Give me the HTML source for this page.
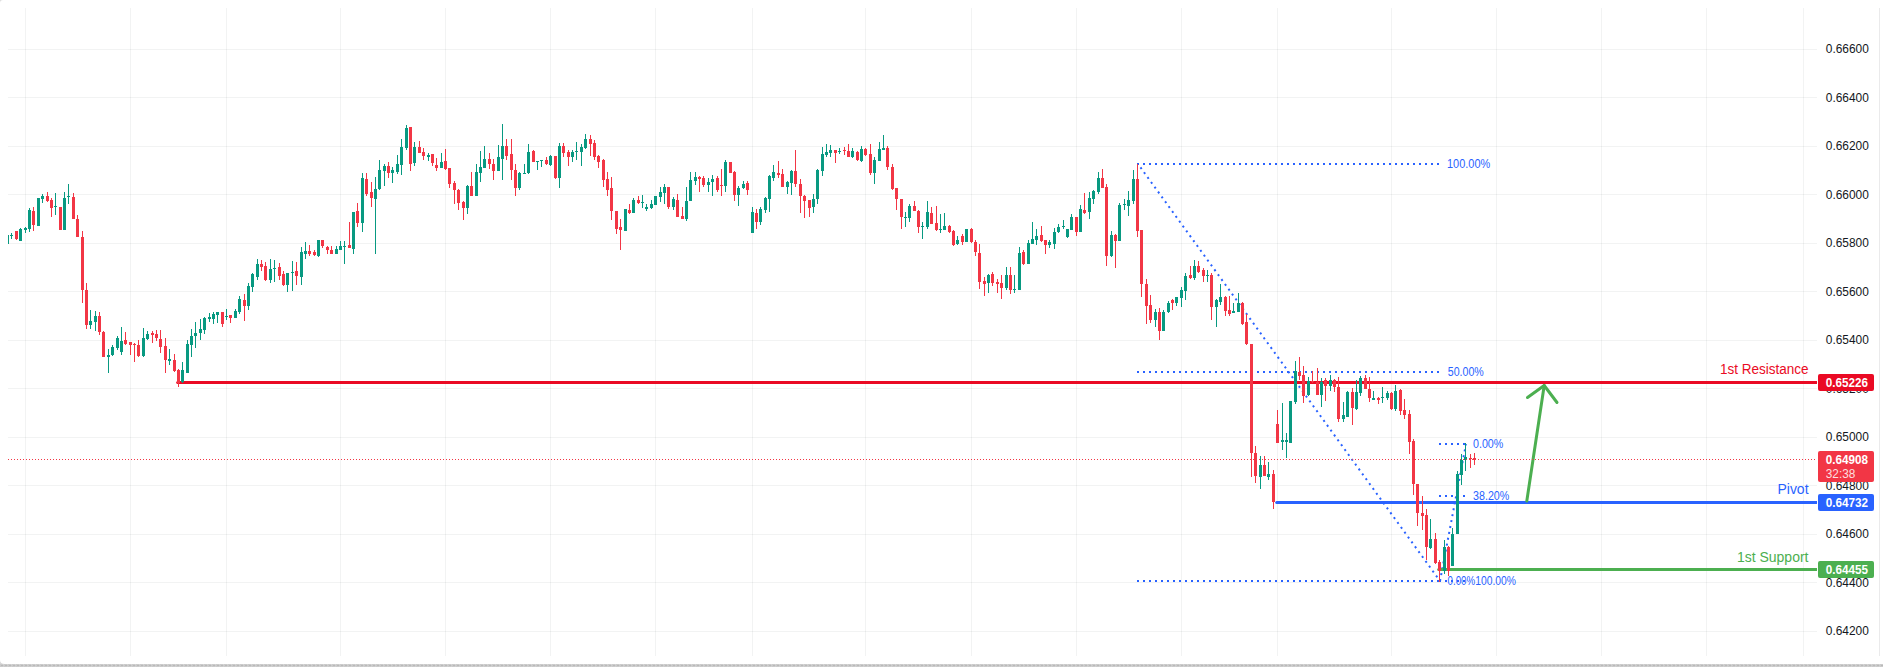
<!DOCTYPE html>
<html lang="en"><head><meta charset="utf-8"><title>Chart</title>
<style>html,body{margin:0;padding:0;background:#fff;}body{width:1883px;height:667px;overflow:hidden;}svg{display:block;}text{font-family:"Liberation Sans",Arial,sans-serif;}</style>
</head><body>
<svg width="1883" height="667" viewBox="0 0 1883 667">
<rect x="0" y="0" width="1883" height="667" fill="#ffffff"/>
<g fill="rgba(42,46,57,0.06)" shape-rendering="crispEdges">
<rect x="25" y="8" width="1" height="648"/>
<rect x="130" y="8" width="1" height="648"/>
<rect x="226" y="8" width="1" height="648"/>
<rect x="340" y="8" width="1" height="648"/>
<rect x="445" y="8" width="1" height="648"/>
<rect x="550" y="8" width="1" height="648"/>
<rect x="655" y="8" width="1" height="648"/>
<rect x="752" y="8" width="1" height="648"/>
<rect x="865" y="8" width="1" height="648"/>
<rect x="971" y="8" width="1" height="648"/>
<rect x="1076" y="8" width="1" height="648"/>
<rect x="1181" y="8" width="1" height="648"/>
<rect x="1277" y="8" width="1" height="648"/>
<rect x="1391" y="8" width="1" height="648"/>
<rect x="1496" y="8" width="1" height="648"/>
<rect x="1601" y="8" width="1" height="648"/>
<rect x="1706" y="8" width="1" height="648"/>
<rect x="1803" y="8" width="1" height="648"/>
<rect x="8" y="49" width="1809" height="1"/>
<rect x="8" y="97" width="1809" height="1"/>
<rect x="8" y="146" width="1809" height="1"/>
<rect x="8" y="194" width="1809" height="1"/>
<rect x="8" y="243" width="1809" height="1"/>
<rect x="8" y="291" width="1809" height="1"/>
<rect x="8" y="340" width="1809" height="1"/>
<rect x="8" y="388" width="1809" height="1"/>
<rect x="8" y="437" width="1809" height="1"/>
<rect x="8" y="485" width="1809" height="1"/>
<rect x="8" y="534" width="1809" height="1"/>
<rect x="8" y="582" width="1809" height="1"/>
<rect x="8" y="631" width="1809" height="1"/>
</g>
<rect x="1879" y="8" width="1" height="648" fill="#eaeaeb" shape-rendering="crispEdges"/>
<line x1="1137" y1="164" x2="1441" y2="164" stroke="#2962ff" stroke-width="2" stroke-dasharray="2 4" shape-rendering="crispEdges"/>
<line x1="1137" y1="372" x2="1441" y2="372" stroke="#2962ff" stroke-width="2" stroke-dasharray="2 4" shape-rendering="crispEdges"/>
<line x1="1137" y1="581" x2="1441" y2="581" stroke="#2962ff" stroke-width="2" stroke-dasharray="2 4" shape-rendering="crispEdges"/>
<line x1="1439" y1="444" x2="1467" y2="444" stroke="#2962ff" stroke-width="2" stroke-dasharray="2 4" shape-rendering="crispEdges"/>
<line x1="1439" y1="496" x2="1467" y2="496" stroke="#2962ff" stroke-width="2" stroke-dasharray="2 4" shape-rendering="crispEdges"/>
<line x1="1439" y1="581" x2="1467" y2="581" stroke="#2962ff" stroke-width="2" stroke-dasharray="2 4" shape-rendering="crispEdges"/>
<line x1="1138" y1="164" x2="1440" y2="581" stroke="#2962ff" stroke-width="2" stroke-dasharray="2 4" stroke-dashoffset="1.8"/>
<line x1="1440" y1="581" x2="1466" y2="444" stroke="#2962ff" stroke-width="2" stroke-dasharray="2 4"/>
<text x="1447" y="167.9" font-size="12" fill="#2962ff" textLength="43.2" lengthAdjust="spacingAndGlyphs">100.00%</text>
<text x="1447.8" y="375.9" font-size="12" fill="#2962ff" textLength="36" lengthAdjust="spacingAndGlyphs">50.00%</text>
<text x="1473" y="447.9" font-size="12" fill="#2962ff" textLength="30.3" lengthAdjust="spacingAndGlyphs">0.00%</text>
<text x="1473" y="499.9" font-size="12" fill="#2962ff" textLength="36.3" lengthAdjust="spacingAndGlyphs">38.20%</text>
<text x="1447.6" y="584.8" font-size="12" fill="#2962ff" textLength="27.6" lengthAdjust="spacingAndGlyphs">0.00%</text>
<text x="1475.2" y="584.8" font-size="12" fill="#2962ff" textLength="40.8" lengthAdjust="spacingAndGlyphs">100.00%</text>
<g stroke-width="3" stroke-linecap="round">
<line x1="177.7" y1="382.5" x2="1815.5" y2="382.5" stroke="#ea0a24"/>
<line x1="1276.7" y1="502.5" x2="1815.5" y2="502.5" stroke="#2962ff"/>
<line x1="1438.7" y1="569.5" x2="1815.5" y2="569.5" stroke="#4caf50"/>
</g>
<g shape-rendering="crispEdges"><rect x="1810" y="381" width="7" height="3" fill="#ea0a24"/><rect x="1810" y="501" width="7" height="3" fill="#2962ff"/><rect x="1810" y="568" width="7" height="3" fill="#4caf50"/></g>
<text x="1808.5" y="374" font-size="14" fill="#ea0a24" text-anchor="end" textLength="88.6" lengthAdjust="spacingAndGlyphs">1st Resistance</text>
<text x="1808.5" y="494" font-size="14" fill="#2962ff" text-anchor="end" textLength="31" lengthAdjust="spacingAndGlyphs">Pivot</text>
<text x="1808.5" y="561.8" font-size="14" fill="#4caf50" text-anchor="end" textLength="71.6" lengthAdjust="spacingAndGlyphs">1st Support</text>
<g stroke="#4caf50" stroke-width="3" stroke-linecap="round" stroke-linejoin="round" fill="none">
<path d="M1526.8 501 L1544.2 385.5"/>
<path d="M1527.5 397.5 L1544.2 385.5 L1557 402.5"/>
</g>
<g shape-rendering="crispEdges">
<rect x="8" y="235" width="1" height="9" fill="#089981"/>
<rect x="11" y="233" width="1" height="6" fill="#089981"/>
<rect x="10" y="235" width="3" height="1" fill="#089981"/>
<rect x="16" y="231" width="1" height="9" fill="#f23645"/>
<rect x="15" y="231" width="3" height="8" fill="#f23645"/>
<rect x="20" y="228" width="1" height="13" fill="#089981"/>
<rect x="19" y="229" width="3" height="12" fill="#089981"/>
<rect x="25" y="227" width="1" height="6" fill="#089981"/>
<rect x="24" y="228" width="3" height="2" fill="#089981"/>
<rect x="29" y="208" width="1" height="24" fill="#089981"/>
<rect x="28" y="210" width="3" height="19" fill="#089981"/>
<rect x="33" y="207" width="1" height="24" fill="#f23645"/>
<rect x="32" y="211" width="3" height="14" fill="#f23645"/>
<rect x="38" y="198" width="1" height="28" fill="#089981"/>
<rect x="37" y="198" width="3" height="28" fill="#089981"/>
<rect x="42" y="194" width="1" height="9" fill="#089981"/>
<rect x="41" y="196" width="3" height="3" fill="#089981"/>
<rect x="47" y="192" width="1" height="10" fill="#f23645"/>
<rect x="46" y="196" width="3" height="5" fill="#f23645"/>
<rect x="51" y="198" width="1" height="19" fill="#f23645"/>
<rect x="50" y="200" width="3" height="8" fill="#f23645"/>
<rect x="55" y="193" width="1" height="22" fill="#089981"/>
<rect x="54" y="206" width="3" height="1" fill="#089981"/>
<rect x="60" y="207" width="1" height="23" fill="#f23645"/>
<rect x="59" y="207" width="3" height="23" fill="#f23645"/>
<rect x="64" y="192" width="1" height="38" fill="#089981"/>
<rect x="63" y="198" width="3" height="32" fill="#089981"/>
<rect x="68" y="184" width="1" height="20" fill="#089981"/>
<rect x="67" y="196" width="3" height="1" fill="#089981"/>
<rect x="73" y="193" width="1" height="26" fill="#f23645"/>
<rect x="72" y="197" width="3" height="22" fill="#f23645"/>
<rect x="77" y="215" width="1" height="22" fill="#f23645"/>
<rect x="76" y="219" width="3" height="18" fill="#f23645"/>
<rect x="82" y="231" width="1" height="72" fill="#f23645"/>
<rect x="81" y="237" width="3" height="53" fill="#f23645"/>
<rect x="86" y="283" width="1" height="46" fill="#f23645"/>
<rect x="85" y="290" width="3" height="35" fill="#f23645"/>
<rect x="90" y="310" width="1" height="19" fill="#089981"/>
<rect x="89" y="321" width="3" height="4" fill="#089981"/>
<rect x="95" y="311" width="1" height="20" fill="#089981"/>
<rect x="94" y="316" width="3" height="6" fill="#089981"/>
<rect x="99" y="312" width="1" height="23" fill="#f23645"/>
<rect x="98" y="316" width="3" height="16" fill="#f23645"/>
<rect x="103" y="331" width="1" height="26" fill="#f23645"/>
<rect x="102" y="332" width="3" height="25" fill="#f23645"/>
<rect x="108" y="349" width="1" height="24" fill="#089981"/>
<rect x="107" y="355" width="3" height="2" fill="#089981"/>
<rect x="112" y="345" width="1" height="11" fill="#089981"/>
<rect x="111" y="347" width="3" height="8" fill="#089981"/>
<rect x="117" y="336" width="1" height="14" fill="#089981"/>
<rect x="116" y="338" width="3" height="10" fill="#089981"/>
<rect x="121" y="327" width="1" height="28" fill="#089981"/>
<rect x="120" y="341" width="3" height="11" fill="#089981"/>
<rect x="125" y="332" width="1" height="13" fill="#f23645"/>
<rect x="124" y="340" width="3" height="4" fill="#f23645"/>
<rect x="130" y="342" width="1" height="13" fill="#f23645"/>
<rect x="129" y="342" width="3" height="3" fill="#f23645"/>
<rect x="134" y="343" width="1" height="19" fill="#f23645"/>
<rect x="133" y="344" width="3" height="1" fill="#f23645"/>
<rect x="138" y="340" width="1" height="17" fill="#f23645"/>
<rect x="137" y="345" width="3" height="11" fill="#f23645"/>
<rect x="143" y="328" width="1" height="29" fill="#089981"/>
<rect x="142" y="338" width="3" height="18" fill="#089981"/>
<rect x="147" y="331" width="1" height="9" fill="#089981"/>
<rect x="146" y="334" width="3" height="5" fill="#089981"/>
<rect x="152" y="331" width="1" height="12" fill="#f23645"/>
<rect x="151" y="333" width="3" height="2" fill="#f23645"/>
<rect x="156" y="330" width="1" height="11" fill="#f23645"/>
<rect x="155" y="334" width="3" height="4" fill="#f23645"/>
<rect x="160" y="330" width="1" height="23" fill="#f23645"/>
<rect x="159" y="339" width="3" height="8" fill="#f23645"/>
<rect x="165" y="338" width="1" height="35" fill="#f23645"/>
<rect x="164" y="346" width="3" height="14" fill="#f23645"/>
<rect x="169" y="349" width="1" height="16" fill="#089981"/>
<rect x="168" y="359" width="3" height="2" fill="#089981"/>
<rect x="174" y="354" width="1" height="18" fill="#f23645"/>
<rect x="173" y="360" width="3" height="11" fill="#f23645"/>
<rect x="178" y="369" width="1" height="18" fill="#f23645"/>
<rect x="177" y="370" width="3" height="13" fill="#f23645"/>
<rect x="182" y="362" width="1" height="21" fill="#089981"/>
<rect x="181" y="370" width="3" height="12" fill="#089981"/>
<rect x="187" y="340" width="1" height="33" fill="#089981"/>
<rect x="186" y="344" width="3" height="29" fill="#089981"/>
<rect x="191" y="329" width="1" height="28" fill="#089981"/>
<rect x="190" y="336" width="3" height="9" fill="#089981"/>
<rect x="195" y="322" width="1" height="26" fill="#089981"/>
<rect x="194" y="333" width="3" height="3" fill="#089981"/>
<rect x="200" y="319" width="1" height="21" fill="#089981"/>
<rect x="199" y="329" width="3" height="4" fill="#089981"/>
<rect x="204" y="317" width="1" height="17" fill="#089981"/>
<rect x="203" y="318" width="3" height="12" fill="#089981"/>
<rect x="209" y="313" width="1" height="9" fill="#089981"/>
<rect x="208" y="317" width="3" height="2" fill="#089981"/>
<rect x="213" y="312" width="1" height="12" fill="#089981"/>
<rect x="212" y="314" width="3" height="5" fill="#089981"/>
<rect x="217" y="312" width="1" height="11" fill="#089981"/>
<rect x="216" y="312" width="3" height="3" fill="#089981"/>
<rect x="222" y="312" width="1" height="15" fill="#f23645"/>
<rect x="221" y="312" width="3" height="12" fill="#f23645"/>
<rect x="226" y="309" width="1" height="11" fill="#089981"/>
<rect x="225" y="316" width="3" height="1" fill="#089981"/>
<rect x="230" y="315" width="1" height="8" fill="#f23645"/>
<rect x="229" y="315" width="3" height="3" fill="#f23645"/>
<rect x="235" y="309" width="1" height="9" fill="#089981"/>
<rect x="234" y="311" width="3" height="7" fill="#089981"/>
<rect x="239" y="296" width="1" height="18" fill="#089981"/>
<rect x="238" y="299" width="3" height="13" fill="#089981"/>
<rect x="244" y="294" width="1" height="27" fill="#f23645"/>
<rect x="243" y="300" width="3" height="6" fill="#f23645"/>
<rect x="248" y="283" width="1" height="27" fill="#089981"/>
<rect x="247" y="286" width="3" height="20" fill="#089981"/>
<rect x="252" y="273" width="1" height="19" fill="#089981"/>
<rect x="251" y="274" width="3" height="13" fill="#089981"/>
<rect x="257" y="259" width="1" height="21" fill="#089981"/>
<rect x="256" y="264" width="3" height="13" fill="#089981"/>
<rect x="261" y="260" width="1" height="11" fill="#f23645"/>
<rect x="260" y="264" width="3" height="3" fill="#f23645"/>
<rect x="265" y="262" width="1" height="19" fill="#f23645"/>
<rect x="264" y="266" width="3" height="14" fill="#f23645"/>
<rect x="270" y="259" width="1" height="24" fill="#089981"/>
<rect x="269" y="269" width="3" height="11" fill="#089981"/>
<rect x="274" y="260" width="1" height="22" fill="#089981"/>
<rect x="273" y="268" width="3" height="1" fill="#089981"/>
<rect x="279" y="263" width="1" height="17" fill="#f23645"/>
<rect x="278" y="267" width="3" height="9" fill="#f23645"/>
<rect x="283" y="271" width="1" height="15" fill="#f23645"/>
<rect x="282" y="274" width="3" height="11" fill="#f23645"/>
<rect x="287" y="273" width="1" height="19" fill="#089981"/>
<rect x="286" y="273" width="3" height="12" fill="#089981"/>
<rect x="292" y="261" width="1" height="30" fill="#089981"/>
<rect x="291" y="272" width="3" height="1" fill="#089981"/>
<rect x="296" y="262" width="1" height="23" fill="#f23645"/>
<rect x="295" y="271" width="3" height="5" fill="#f23645"/>
<rect x="301" y="247" width="1" height="38" fill="#089981"/>
<rect x="300" y="252" width="3" height="25" fill="#089981"/>
<rect x="305" y="242" width="1" height="17" fill="#089981"/>
<rect x="304" y="251" width="3" height="3" fill="#089981"/>
<rect x="309" y="245" width="1" height="11" fill="#f23645"/>
<rect x="308" y="251" width="3" height="3" fill="#f23645"/>
<rect x="314" y="250" width="1" height="6" fill="#f23645"/>
<rect x="313" y="252" width="3" height="3" fill="#f23645"/>
<rect x="318" y="240" width="1" height="17" fill="#089981"/>
<rect x="317" y="240" width="3" height="16" fill="#089981"/>
<rect x="322" y="240" width="1" height="8" fill="#f23645"/>
<rect x="321" y="240" width="3" height="6" fill="#f23645"/>
<rect x="327" y="246" width="1" height="8" fill="#f23645"/>
<rect x="326" y="247" width="3" height="3" fill="#f23645"/>
<rect x="331" y="246" width="1" height="8" fill="#f23645"/>
<rect x="330" y="250" width="3" height="4" fill="#f23645"/>
<rect x="336" y="246" width="1" height="8" fill="#089981"/>
<rect x="335" y="249" width="3" height="5" fill="#089981"/>
<rect x="340" y="241" width="1" height="9" fill="#089981"/>
<rect x="339" y="246" width="3" height="4" fill="#089981"/>
<rect x="344" y="241" width="1" height="23" fill="#089981"/>
<rect x="343" y="246" width="3" height="1" fill="#089981"/>
<rect x="349" y="222" width="1" height="26" fill="#f23645"/>
<rect x="348" y="245" width="3" height="3" fill="#f23645"/>
<rect x="353" y="212" width="1" height="42" fill="#089981"/>
<rect x="352" y="212" width="3" height="37" fill="#089981"/>
<rect x="357" y="203" width="1" height="24" fill="#f23645"/>
<rect x="356" y="211" width="3" height="12" fill="#f23645"/>
<rect x="362" y="173" width="1" height="59" fill="#089981"/>
<rect x="361" y="178" width="3" height="45" fill="#089981"/>
<rect x="366" y="173" width="1" height="23" fill="#f23645"/>
<rect x="365" y="179" width="3" height="15" fill="#f23645"/>
<rect x="371" y="182" width="1" height="25" fill="#f23645"/>
<rect x="370" y="192" width="3" height="6" fill="#f23645"/>
<rect x="375" y="177" width="1" height="77" fill="#089981"/>
<rect x="374" y="189" width="3" height="10" fill="#089981"/>
<rect x="379" y="160" width="1" height="30" fill="#089981"/>
<rect x="378" y="170" width="3" height="19" fill="#089981"/>
<rect x="384" y="164" width="1" height="22" fill="#089981"/>
<rect x="383" y="166" width="3" height="5" fill="#089981"/>
<rect x="388" y="162" width="1" height="16" fill="#f23645"/>
<rect x="387" y="166" width="3" height="7" fill="#f23645"/>
<rect x="392" y="167" width="1" height="16" fill="#089981"/>
<rect x="391" y="170" width="3" height="3" fill="#089981"/>
<rect x="397" y="155" width="1" height="19" fill="#089981"/>
<rect x="396" y="164" width="3" height="8" fill="#089981"/>
<rect x="401" y="139" width="1" height="36" fill="#089981"/>
<rect x="400" y="147" width="3" height="18" fill="#089981"/>
<rect x="406" y="125" width="1" height="25" fill="#089981"/>
<rect x="405" y="128" width="3" height="20" fill="#089981"/>
<rect x="410" y="127" width="1" height="44" fill="#f23645"/>
<rect x="409" y="127" width="3" height="37" fill="#f23645"/>
<rect x="414" y="142" width="1" height="24" fill="#089981"/>
<rect x="413" y="147" width="3" height="16" fill="#089981"/>
<rect x="419" y="141" width="1" height="12" fill="#f23645"/>
<rect x="418" y="147" width="3" height="6" fill="#f23645"/>
<rect x="423" y="148" width="1" height="12" fill="#f23645"/>
<rect x="422" y="152" width="3" height="4" fill="#f23645"/>
<rect x="428" y="153" width="1" height="8" fill="#089981"/>
<rect x="427" y="155" width="3" height="2" fill="#089981"/>
<rect x="432" y="154" width="1" height="12" fill="#f23645"/>
<rect x="431" y="154" width="3" height="9" fill="#f23645"/>
<rect x="436" y="158" width="1" height="13" fill="#f23645"/>
<rect x="435" y="165" width="3" height="3" fill="#f23645"/>
<rect x="441" y="153" width="1" height="15" fill="#089981"/>
<rect x="440" y="162" width="3" height="6" fill="#089981"/>
<rect x="445" y="149" width="1" height="21" fill="#f23645"/>
<rect x="444" y="161" width="3" height="8" fill="#f23645"/>
<rect x="449" y="168" width="1" height="20" fill="#f23645"/>
<rect x="448" y="168" width="3" height="16" fill="#f23645"/>
<rect x="454" y="181" width="1" height="23" fill="#f23645"/>
<rect x="453" y="183" width="3" height="7" fill="#f23645"/>
<rect x="458" y="189" width="1" height="21" fill="#f23645"/>
<rect x="457" y="190" width="3" height="13" fill="#f23645"/>
<rect x="463" y="201" width="1" height="19" fill="#f23645"/>
<rect x="462" y="202" width="3" height="6" fill="#f23645"/>
<rect x="467" y="185" width="1" height="29" fill="#089981"/>
<rect x="466" y="186" width="3" height="22" fill="#089981"/>
<rect x="471" y="172" width="1" height="24" fill="#f23645"/>
<rect x="470" y="186" width="3" height="10" fill="#f23645"/>
<rect x="476" y="164" width="1" height="32" fill="#089981"/>
<rect x="475" y="172" width="3" height="24" fill="#089981"/>
<rect x="480" y="151" width="1" height="31" fill="#089981"/>
<rect x="479" y="167" width="3" height="6" fill="#089981"/>
<rect x="484" y="146" width="1" height="22" fill="#089981"/>
<rect x="483" y="159" width="3" height="9" fill="#089981"/>
<rect x="489" y="153" width="1" height="16" fill="#f23645"/>
<rect x="488" y="159" width="3" height="5" fill="#f23645"/>
<rect x="493" y="159" width="1" height="21" fill="#f23645"/>
<rect x="492" y="164" width="3" height="7" fill="#f23645"/>
<rect x="498" y="145" width="1" height="26" fill="#089981"/>
<rect x="497" y="157" width="3" height="14" fill="#089981"/>
<rect x="502" y="124" width="1" height="56" fill="#089981"/>
<rect x="501" y="146" width="3" height="13" fill="#089981"/>
<rect x="506" y="139" width="1" height="21" fill="#f23645"/>
<rect x="505" y="146" width="3" height="10" fill="#f23645"/>
<rect x="511" y="139" width="1" height="41" fill="#f23645"/>
<rect x="510" y="154" width="3" height="16" fill="#f23645"/>
<rect x="515" y="164" width="1" height="32" fill="#f23645"/>
<rect x="514" y="170" width="3" height="18" fill="#f23645"/>
<rect x="519" y="172" width="1" height="18" fill="#089981"/>
<rect x="518" y="173" width="3" height="15" fill="#089981"/>
<rect x="524" y="164" width="1" height="10" fill="#089981"/>
<rect x="523" y="173" width="3" height="1" fill="#089981"/>
<rect x="528" y="144" width="1" height="30" fill="#089981"/>
<rect x="527" y="152" width="3" height="21" fill="#089981"/>
<rect x="533" y="150" width="1" height="12" fill="#f23645"/>
<rect x="532" y="151" width="3" height="11" fill="#f23645"/>
<rect x="537" y="161" width="1" height="9" fill="#089981"/>
<rect x="536" y="161" width="3" height="1" fill="#089981"/>
<rect x="541" y="160" width="1" height="7" fill="#089981"/>
<rect x="540" y="160" width="3" height="1" fill="#089981"/>
<rect x="546" y="157" width="1" height="8" fill="#f23645"/>
<rect x="545" y="160" width="3" height="4" fill="#f23645"/>
<rect x="550" y="155" width="1" height="11" fill="#089981"/>
<rect x="549" y="156" width="3" height="9" fill="#089981"/>
<rect x="555" y="156" width="1" height="23" fill="#f23645"/>
<rect x="554" y="156" width="3" height="22" fill="#f23645"/>
<rect x="559" y="143" width="1" height="45" fill="#089981"/>
<rect x="558" y="146" width="3" height="32" fill="#089981"/>
<rect x="563" y="143" width="1" height="14" fill="#f23645"/>
<rect x="562" y="146" width="3" height="7" fill="#f23645"/>
<rect x="568" y="150" width="1" height="16" fill="#f23645"/>
<rect x="567" y="152" width="3" height="5" fill="#f23645"/>
<rect x="572" y="150" width="1" height="12" fill="#089981"/>
<rect x="571" y="152" width="3" height="5" fill="#089981"/>
<rect x="576" y="142" width="1" height="18" fill="#089981"/>
<rect x="575" y="151" width="3" height="1" fill="#089981"/>
<rect x="581" y="144" width="1" height="22" fill="#089981"/>
<rect x="580" y="147" width="3" height="5" fill="#089981"/>
<rect x="585" y="134" width="1" height="15" fill="#089981"/>
<rect x="584" y="139" width="3" height="9" fill="#089981"/>
<rect x="590" y="135" width="1" height="21" fill="#f23645"/>
<rect x="589" y="139" width="3" height="5" fill="#f23645"/>
<rect x="594" y="140" width="1" height="20" fill="#f23645"/>
<rect x="593" y="143" width="3" height="14" fill="#f23645"/>
<rect x="598" y="155" width="1" height="13" fill="#f23645"/>
<rect x="597" y="156" width="3" height="6" fill="#f23645"/>
<rect x="603" y="159" width="1" height="28" fill="#f23645"/>
<rect x="602" y="160" width="3" height="20" fill="#f23645"/>
<rect x="607" y="172" width="1" height="24" fill="#f23645"/>
<rect x="606" y="179" width="3" height="11" fill="#f23645"/>
<rect x="611" y="177" width="1" height="43" fill="#f23645"/>
<rect x="610" y="188" width="3" height="23" fill="#f23645"/>
<rect x="616" y="211" width="1" height="23" fill="#f23645"/>
<rect x="615" y="211" width="3" height="18" fill="#f23645"/>
<rect x="620" y="219" width="1" height="31" fill="#f23645"/>
<rect x="619" y="227" width="3" height="3" fill="#f23645"/>
<rect x="625" y="209" width="1" height="22" fill="#089981"/>
<rect x="624" y="209" width="3" height="22" fill="#089981"/>
<rect x="629" y="204" width="1" height="10" fill="#f23645"/>
<rect x="628" y="210" width="3" height="3" fill="#f23645"/>
<rect x="633" y="198" width="1" height="15" fill="#089981"/>
<rect x="632" y="200" width="3" height="13" fill="#089981"/>
<rect x="638" y="196" width="1" height="8" fill="#f23645"/>
<rect x="637" y="200" width="3" height="3" fill="#f23645"/>
<rect x="642" y="195" width="1" height="13" fill="#089981"/>
<rect x="641" y="202" width="3" height="1" fill="#089981"/>
<rect x="646" y="204" width="1" height="7" fill="#089981"/>
<rect x="645" y="207" width="3" height="2" fill="#089981"/>
<rect x="651" y="200" width="1" height="9" fill="#089981"/>
<rect x="650" y="204" width="3" height="4" fill="#089981"/>
<rect x="655" y="196" width="1" height="9" fill="#089981"/>
<rect x="654" y="196" width="3" height="9" fill="#089981"/>
<rect x="660" y="187" width="1" height="15" fill="#089981"/>
<rect x="659" y="192" width="3" height="5" fill="#089981"/>
<rect x="664" y="184" width="1" height="20" fill="#089981"/>
<rect x="663" y="187" width="3" height="6" fill="#089981"/>
<rect x="668" y="187" width="1" height="22" fill="#f23645"/>
<rect x="667" y="187" width="3" height="20" fill="#f23645"/>
<rect x="673" y="197" width="1" height="13" fill="#089981"/>
<rect x="672" y="199" width="3" height="8" fill="#089981"/>
<rect x="677" y="194" width="1" height="23" fill="#f23645"/>
<rect x="676" y="200" width="3" height="17" fill="#f23645"/>
<rect x="682" y="207" width="1" height="12" fill="#f23645"/>
<rect x="681" y="216" width="3" height="3" fill="#f23645"/>
<rect x="686" y="187" width="1" height="34" fill="#089981"/>
<rect x="685" y="201" width="3" height="18" fill="#089981"/>
<rect x="690" y="172" width="1" height="29" fill="#089981"/>
<rect x="689" y="180" width="3" height="21" fill="#089981"/>
<rect x="695" y="172" width="1" height="13" fill="#089981"/>
<rect x="694" y="177" width="3" height="4" fill="#089981"/>
<rect x="699" y="176" width="1" height="16" fill="#f23645"/>
<rect x="698" y="177" width="3" height="2" fill="#f23645"/>
<rect x="703" y="176" width="1" height="11" fill="#f23645"/>
<rect x="702" y="178" width="3" height="7" fill="#f23645"/>
<rect x="708" y="178" width="1" height="14" fill="#089981"/>
<rect x="707" y="182" width="3" height="3" fill="#089981"/>
<rect x="712" y="175" width="1" height="21" fill="#089981"/>
<rect x="711" y="179" width="3" height="3" fill="#089981"/>
<rect x="717" y="176" width="1" height="16" fill="#f23645"/>
<rect x="716" y="178" width="3" height="12" fill="#f23645"/>
<rect x="721" y="169" width="1" height="27" fill="#f23645"/>
<rect x="720" y="185" width="3" height="1" fill="#f23645"/>
<rect x="725" y="160" width="1" height="32" fill="#089981"/>
<rect x="724" y="162" width="3" height="24" fill="#089981"/>
<rect x="730" y="162" width="1" height="11" fill="#f23645"/>
<rect x="729" y="162" width="3" height="11" fill="#f23645"/>
<rect x="734" y="171" width="1" height="30" fill="#f23645"/>
<rect x="733" y="172" width="3" height="23" fill="#f23645"/>
<rect x="738" y="186" width="1" height="20" fill="#089981"/>
<rect x="737" y="188" width="3" height="7" fill="#089981"/>
<rect x="743" y="181" width="1" height="8" fill="#089981"/>
<rect x="742" y="184" width="3" height="4" fill="#089981"/>
<rect x="747" y="181" width="1" height="14" fill="#f23645"/>
<rect x="746" y="183" width="3" height="7" fill="#f23645"/>
<rect x="752" y="207" width="1" height="26" fill="#089981"/>
<rect x="751" y="212" width="3" height="21" fill="#089981"/>
<rect x="756" y="209" width="1" height="20" fill="#f23645"/>
<rect x="755" y="213" width="3" height="9" fill="#f23645"/>
<rect x="760" y="207" width="1" height="18" fill="#089981"/>
<rect x="759" y="209" width="3" height="13" fill="#089981"/>
<rect x="765" y="197" width="1" height="16" fill="#089981"/>
<rect x="764" y="198" width="3" height="12" fill="#089981"/>
<rect x="769" y="175" width="1" height="37" fill="#089981"/>
<rect x="768" y="176" width="3" height="23" fill="#089981"/>
<rect x="773" y="165" width="1" height="16" fill="#089981"/>
<rect x="772" y="172" width="3" height="6" fill="#089981"/>
<rect x="778" y="161" width="1" height="17" fill="#f23645"/>
<rect x="777" y="173" width="3" height="2" fill="#f23645"/>
<rect x="782" y="169" width="1" height="18" fill="#f23645"/>
<rect x="781" y="174" width="3" height="13" fill="#f23645"/>
<rect x="787" y="181" width="1" height="13" fill="#089981"/>
<rect x="786" y="182" width="3" height="5" fill="#089981"/>
<rect x="791" y="170" width="1" height="25" fill="#089981"/>
<rect x="790" y="171" width="3" height="12" fill="#089981"/>
<rect x="795" y="150" width="1" height="37" fill="#f23645"/>
<rect x="794" y="171" width="3" height="13" fill="#f23645"/>
<rect x="800" y="179" width="1" height="34" fill="#f23645"/>
<rect x="799" y="184" width="3" height="12" fill="#f23645"/>
<rect x="804" y="195" width="1" height="23" fill="#f23645"/>
<rect x="803" y="196" width="3" height="5" fill="#f23645"/>
<rect x="809" y="200" width="1" height="17" fill="#f23645"/>
<rect x="808" y="200" width="3" height="8" fill="#f23645"/>
<rect x="813" y="194" width="1" height="19" fill="#089981"/>
<rect x="812" y="199" width="3" height="8" fill="#089981"/>
<rect x="817" y="169" width="1" height="35" fill="#089981"/>
<rect x="816" y="170" width="3" height="29" fill="#089981"/>
<rect x="822" y="147" width="1" height="29" fill="#089981"/>
<rect x="821" y="154" width="3" height="17" fill="#089981"/>
<rect x="826" y="144" width="1" height="13" fill="#089981"/>
<rect x="825" y="152" width="3" height="3" fill="#089981"/>
<rect x="830" y="145" width="1" height="12" fill="#089981"/>
<rect x="829" y="150" width="3" height="3" fill="#089981"/>
<rect x="835" y="150" width="1" height="13" fill="#f23645"/>
<rect x="834" y="150" width="3" height="3" fill="#f23645"/>
<rect x="839" y="148" width="1" height="6" fill="#089981"/>
<rect x="838" y="151" width="3" height="1" fill="#089981"/>
<rect x="844" y="147" width="1" height="8" fill="#f23645"/>
<rect x="843" y="150" width="3" height="1" fill="#f23645"/>
<rect x="848" y="144" width="1" height="13" fill="#f23645"/>
<rect x="847" y="151" width="3" height="6" fill="#f23645"/>
<rect x="852" y="148" width="1" height="10" fill="#089981"/>
<rect x="851" y="151" width="3" height="6" fill="#089981"/>
<rect x="857" y="151" width="1" height="10" fill="#f23645"/>
<rect x="856" y="152" width="3" height="8" fill="#f23645"/>
<rect x="861" y="146" width="1" height="16" fill="#089981"/>
<rect x="860" y="149" width="3" height="12" fill="#089981"/>
<rect x="865" y="148" width="1" height="8" fill="#f23645"/>
<rect x="864" y="149" width="3" height="6" fill="#f23645"/>
<rect x="870" y="144" width="1" height="31" fill="#f23645"/>
<rect x="869" y="154" width="3" height="19" fill="#f23645"/>
<rect x="874" y="157" width="1" height="27" fill="#089981"/>
<rect x="873" y="160" width="3" height="13" fill="#089981"/>
<rect x="879" y="142" width="1" height="19" fill="#089981"/>
<rect x="878" y="149" width="3" height="12" fill="#089981"/>
<rect x="883" y="135" width="1" height="15" fill="#089981"/>
<rect x="882" y="148" width="3" height="2" fill="#089981"/>
<rect x="887" y="146" width="1" height="24" fill="#f23645"/>
<rect x="886" y="148" width="3" height="19" fill="#f23645"/>
<rect x="892" y="164" width="1" height="26" fill="#f23645"/>
<rect x="891" y="167" width="3" height="22" fill="#f23645"/>
<rect x="896" y="188" width="1" height="22" fill="#f23645"/>
<rect x="895" y="188" width="3" height="11" fill="#f23645"/>
<rect x="901" y="199" width="1" height="30" fill="#f23645"/>
<rect x="900" y="199" width="3" height="18" fill="#f23645"/>
<rect x="905" y="212" width="1" height="15" fill="#089981"/>
<rect x="904" y="217" width="3" height="1" fill="#089981"/>
<rect x="909" y="204" width="1" height="18" fill="#089981"/>
<rect x="908" y="206" width="3" height="12" fill="#089981"/>
<rect x="914" y="201" width="1" height="10" fill="#f23645"/>
<rect x="913" y="206" width="3" height="5" fill="#f23645"/>
<rect x="918" y="210" width="1" height="23" fill="#f23645"/>
<rect x="917" y="211" width="3" height="16" fill="#f23645"/>
<rect x="922" y="222" width="1" height="17" fill="#089981"/>
<rect x="921" y="226" width="3" height="1" fill="#089981"/>
<rect x="927" y="201" width="1" height="28" fill="#089981"/>
<rect x="926" y="212" width="3" height="15" fill="#089981"/>
<rect x="931" y="207" width="1" height="17" fill="#f23645"/>
<rect x="930" y="213" width="3" height="11" fill="#f23645"/>
<rect x="936" y="206" width="1" height="25" fill="#f23645"/>
<rect x="935" y="223" width="3" height="7" fill="#f23645"/>
<rect x="940" y="214" width="1" height="19" fill="#089981"/>
<rect x="939" y="229" width="3" height="1" fill="#089981"/>
<rect x="944" y="213" width="1" height="17" fill="#089981"/>
<rect x="943" y="226" width="3" height="4" fill="#089981"/>
<rect x="949" y="225" width="1" height="8" fill="#f23645"/>
<rect x="948" y="226" width="3" height="6" fill="#f23645"/>
<rect x="953" y="230" width="1" height="16" fill="#f23645"/>
<rect x="952" y="231" width="3" height="14" fill="#f23645"/>
<rect x="957" y="236" width="1" height="9" fill="#089981"/>
<rect x="956" y="240" width="3" height="4" fill="#089981"/>
<rect x="962" y="234" width="1" height="11" fill="#f23645"/>
<rect x="961" y="236" width="3" height="6" fill="#f23645"/>
<rect x="966" y="229" width="1" height="13" fill="#089981"/>
<rect x="965" y="229" width="3" height="13" fill="#089981"/>
<rect x="971" y="228" width="1" height="15" fill="#f23645"/>
<rect x="970" y="229" width="3" height="13" fill="#f23645"/>
<rect x="975" y="240" width="1" height="16" fill="#f23645"/>
<rect x="974" y="242" width="3" height="10" fill="#f23645"/>
<rect x="979" y="244" width="1" height="45" fill="#f23645"/>
<rect x="978" y="253" width="3" height="29" fill="#f23645"/>
<rect x="984" y="277" width="1" height="19" fill="#f23645"/>
<rect x="983" y="281" width="3" height="3" fill="#f23645"/>
<rect x="988" y="274" width="1" height="19" fill="#089981"/>
<rect x="987" y="275" width="3" height="8" fill="#089981"/>
<rect x="992" y="272" width="1" height="14" fill="#f23645"/>
<rect x="991" y="274" width="3" height="9" fill="#f23645"/>
<rect x="997" y="279" width="1" height="14" fill="#f23645"/>
<rect x="996" y="282" width="3" height="2" fill="#f23645"/>
<rect x="1001" y="275" width="1" height="24" fill="#f23645"/>
<rect x="1000" y="283" width="3" height="5" fill="#f23645"/>
<rect x="1006" y="267" width="1" height="23" fill="#089981"/>
<rect x="1005" y="275" width="3" height="13" fill="#089981"/>
<rect x="1010" y="267" width="1" height="27" fill="#f23645"/>
<rect x="1009" y="275" width="3" height="15" fill="#f23645"/>
<rect x="1014" y="275" width="1" height="18" fill="#089981"/>
<rect x="1013" y="289" width="3" height="1" fill="#089981"/>
<rect x="1019" y="247" width="1" height="43" fill="#089981"/>
<rect x="1018" y="253" width="3" height="37" fill="#089981"/>
<rect x="1023" y="250" width="1" height="15" fill="#f23645"/>
<rect x="1022" y="252" width="3" height="12" fill="#f23645"/>
<rect x="1028" y="240" width="1" height="24" fill="#089981"/>
<rect x="1027" y="243" width="3" height="21" fill="#089981"/>
<rect x="1032" y="222" width="1" height="22" fill="#089981"/>
<rect x="1031" y="239" width="3" height="5" fill="#089981"/>
<rect x="1036" y="229" width="1" height="16" fill="#089981"/>
<rect x="1035" y="236" width="3" height="4" fill="#089981"/>
<rect x="1041" y="226" width="1" height="16" fill="#f23645"/>
<rect x="1040" y="235" width="3" height="6" fill="#f23645"/>
<rect x="1045" y="240" width="1" height="14" fill="#f23645"/>
<rect x="1044" y="240" width="3" height="5" fill="#f23645"/>
<rect x="1049" y="240" width="1" height="8" fill="#089981"/>
<rect x="1048" y="242" width="3" height="3" fill="#089981"/>
<rect x="1054" y="228" width="1" height="21" fill="#089981"/>
<rect x="1053" y="232" width="3" height="12" fill="#089981"/>
<rect x="1058" y="224" width="1" height="9" fill="#089981"/>
<rect x="1057" y="227" width="3" height="5" fill="#089981"/>
<rect x="1063" y="220" width="1" height="9" fill="#089981"/>
<rect x="1062" y="226" width="3" height="1" fill="#089981"/>
<rect x="1067" y="229" width="1" height="9" fill="#089981"/>
<rect x="1066" y="229" width="3" height="8" fill="#089981"/>
<rect x="1071" y="214" width="1" height="16" fill="#089981"/>
<rect x="1070" y="217" width="3" height="13" fill="#089981"/>
<rect x="1076" y="217" width="1" height="19" fill="#f23645"/>
<rect x="1075" y="217" width="3" height="15" fill="#f23645"/>
<rect x="1080" y="205" width="1" height="27" fill="#089981"/>
<rect x="1079" y="209" width="3" height="23" fill="#089981"/>
<rect x="1084" y="193" width="1" height="21" fill="#f23645"/>
<rect x="1083" y="210" width="3" height="3" fill="#f23645"/>
<rect x="1089" y="192" width="1" height="27" fill="#089981"/>
<rect x="1088" y="198" width="3" height="14" fill="#089981"/>
<rect x="1093" y="190" width="1" height="14" fill="#089981"/>
<rect x="1092" y="191" width="3" height="8" fill="#089981"/>
<rect x="1098" y="172" width="1" height="22" fill="#089981"/>
<rect x="1097" y="178" width="3" height="14" fill="#089981"/>
<rect x="1102" y="169" width="1" height="19" fill="#f23645"/>
<rect x="1101" y="178" width="3" height="10" fill="#f23645"/>
<rect x="1106" y="184" width="1" height="82" fill="#f23645"/>
<rect x="1105" y="187" width="3" height="69" fill="#f23645"/>
<rect x="1111" y="231" width="1" height="26" fill="#089981"/>
<rect x="1110" y="235" width="3" height="21" fill="#089981"/>
<rect x="1115" y="234" width="1" height="34" fill="#f23645"/>
<rect x="1114" y="235" width="3" height="6" fill="#f23645"/>
<rect x="1119" y="203" width="1" height="38" fill="#089981"/>
<rect x="1118" y="205" width="3" height="36" fill="#089981"/>
<rect x="1124" y="199" width="1" height="11" fill="#089981"/>
<rect x="1123" y="204" width="3" height="1" fill="#089981"/>
<rect x="1128" y="191" width="1" height="25" fill="#089981"/>
<rect x="1127" y="200" width="3" height="6" fill="#089981"/>
<rect x="1133" y="170" width="1" height="34" fill="#089981"/>
<rect x="1132" y="179" width="3" height="22" fill="#089981"/>
<rect x="1137" y="164" width="1" height="73" fill="#f23645"/>
<rect x="1136" y="179" width="3" height="52" fill="#f23645"/>
<rect x="1141" y="230" width="1" height="67" fill="#f23645"/>
<rect x="1140" y="230" width="3" height="54" fill="#f23645"/>
<rect x="1146" y="279" width="1" height="45" fill="#f23645"/>
<rect x="1145" y="284" width="3" height="22" fill="#f23645"/>
<rect x="1150" y="295" width="1" height="28" fill="#f23645"/>
<rect x="1149" y="305" width="3" height="15" fill="#f23645"/>
<rect x="1155" y="309" width="1" height="18" fill="#089981"/>
<rect x="1154" y="312" width="3" height="8" fill="#089981"/>
<rect x="1159" y="308" width="1" height="32" fill="#f23645"/>
<rect x="1158" y="312" width="3" height="19" fill="#f23645"/>
<rect x="1163" y="310" width="1" height="21" fill="#089981"/>
<rect x="1162" y="312" width="3" height="19" fill="#089981"/>
<rect x="1168" y="301" width="1" height="12" fill="#089981"/>
<rect x="1167" y="303" width="3" height="9" fill="#089981"/>
<rect x="1172" y="299" width="1" height="11" fill="#f23645"/>
<rect x="1171" y="300" width="3" height="3" fill="#f23645"/>
<rect x="1176" y="297" width="1" height="9" fill="#089981"/>
<rect x="1175" y="297" width="3" height="6" fill="#089981"/>
<rect x="1181" y="287" width="1" height="20" fill="#089981"/>
<rect x="1180" y="290" width="3" height="8" fill="#089981"/>
<rect x="1185" y="273" width="1" height="27" fill="#089981"/>
<rect x="1184" y="276" width="3" height="15" fill="#089981"/>
<rect x="1190" y="266" width="1" height="13" fill="#f23645"/>
<rect x="1189" y="275" width="3" height="3" fill="#f23645"/>
<rect x="1194" y="260" width="1" height="20" fill="#089981"/>
<rect x="1193" y="266" width="3" height="12" fill="#089981"/>
<rect x="1198" y="261" width="1" height="12" fill="#f23645"/>
<rect x="1197" y="266" width="3" height="6" fill="#f23645"/>
<rect x="1203" y="268" width="1" height="14" fill="#f23645"/>
<rect x="1202" y="270" width="3" height="6" fill="#f23645"/>
<rect x="1207" y="270" width="1" height="12" fill="#089981"/>
<rect x="1206" y="275" width="3" height="1" fill="#089981"/>
<rect x="1211" y="273" width="1" height="47" fill="#f23645"/>
<rect x="1210" y="275" width="3" height="32" fill="#f23645"/>
<rect x="1216" y="299" width="1" height="28" fill="#089981"/>
<rect x="1215" y="300" width="3" height="7" fill="#089981"/>
<rect x="1220" y="284" width="1" height="21" fill="#089981"/>
<rect x="1219" y="297" width="3" height="5" fill="#089981"/>
<rect x="1225" y="296" width="1" height="20" fill="#f23645"/>
<rect x="1224" y="297" width="3" height="14" fill="#f23645"/>
<rect x="1229" y="296" width="1" height="20" fill="#f23645"/>
<rect x="1228" y="310" width="3" height="4" fill="#f23645"/>
<rect x="1233" y="303" width="1" height="10" fill="#089981"/>
<rect x="1232" y="311" width="3" height="2" fill="#089981"/>
<rect x="1238" y="293" width="1" height="19" fill="#089981"/>
<rect x="1237" y="303" width="3" height="9" fill="#089981"/>
<rect x="1242" y="302" width="1" height="23" fill="#f23645"/>
<rect x="1241" y="303" width="3" height="21" fill="#f23645"/>
<rect x="1246" y="314" width="1" height="31" fill="#f23645"/>
<rect x="1245" y="322" width="3" height="22" fill="#f23645"/>
<rect x="1251" y="344" width="1" height="133" fill="#f23645"/>
<rect x="1250" y="344" width="3" height="109" fill="#f23645"/>
<rect x="1255" y="446" width="1" height="37" fill="#f23645"/>
<rect x="1254" y="453" width="3" height="23" fill="#f23645"/>
<rect x="1260" y="456" width="1" height="33" fill="#089981"/>
<rect x="1259" y="465" width="3" height="12" fill="#089981"/>
<rect x="1264" y="456" width="1" height="20" fill="#f23645"/>
<rect x="1263" y="465" width="3" height="11" fill="#f23645"/>
<rect x="1268" y="462" width="1" height="18" fill="#089981"/>
<rect x="1267" y="474" width="3" height="3" fill="#089981"/>
<rect x="1273" y="470" width="1" height="39" fill="#f23645"/>
<rect x="1272" y="474" width="3" height="28" fill="#f23645"/>
<rect x="1277" y="410" width="1" height="33" fill="#f23645"/>
<rect x="1276" y="424" width="3" height="19" fill="#f23645"/>
<rect x="1282" y="403" width="1" height="47" fill="#089981"/>
<rect x="1281" y="440" width="3" height="2" fill="#089981"/>
<rect x="1286" y="433" width="1" height="25" fill="#089981"/>
<rect x="1285" y="440" width="3" height="2" fill="#089981"/>
<rect x="1290" y="401" width="1" height="42" fill="#089981"/>
<rect x="1289" y="401" width="3" height="42" fill="#089981"/>
<rect x="1295" y="361" width="1" height="43" fill="#089981"/>
<rect x="1294" y="371" width="3" height="31" fill="#089981"/>
<rect x="1299" y="357" width="1" height="23" fill="#f23645"/>
<rect x="1298" y="372" width="3" height="4" fill="#f23645"/>
<rect x="1303" y="366" width="1" height="37" fill="#f23645"/>
<rect x="1302" y="375" width="3" height="21" fill="#f23645"/>
<rect x="1308" y="377" width="1" height="19" fill="#089981"/>
<rect x="1307" y="381" width="3" height="14" fill="#089981"/>
<rect x="1312" y="371" width="1" height="12" fill="#f23645"/>
<rect x="1311" y="381" width="3" height="1" fill="#f23645"/>
<rect x="1317" y="368" width="1" height="27" fill="#f23645"/>
<rect x="1316" y="382" width="3" height="13" fill="#f23645"/>
<rect x="1321" y="378" width="1" height="29" fill="#089981"/>
<rect x="1320" y="382" width="3" height="13" fill="#089981"/>
<rect x="1325" y="378" width="1" height="23" fill="#f23645"/>
<rect x="1324" y="380" width="3" height="6" fill="#f23645"/>
<rect x="1330" y="375" width="1" height="16" fill="#089981"/>
<rect x="1329" y="380" width="3" height="6" fill="#089981"/>
<rect x="1334" y="379" width="1" height="13" fill="#f23645"/>
<rect x="1333" y="380" width="3" height="7" fill="#f23645"/>
<rect x="1338" y="377" width="1" height="45" fill="#f23645"/>
<rect x="1337" y="387" width="3" height="32" fill="#f23645"/>
<rect x="1343" y="402" width="1" height="20" fill="#089981"/>
<rect x="1342" y="415" width="3" height="4" fill="#089981"/>
<rect x="1347" y="391" width="1" height="26" fill="#089981"/>
<rect x="1346" y="392" width="3" height="25" fill="#089981"/>
<rect x="1352" y="388" width="1" height="37" fill="#f23645"/>
<rect x="1351" y="392" width="3" height="16" fill="#f23645"/>
<rect x="1356" y="380" width="1" height="30" fill="#089981"/>
<rect x="1355" y="392" width="3" height="17" fill="#089981"/>
<rect x="1360" y="376" width="1" height="20" fill="#089981"/>
<rect x="1359" y="378" width="3" height="15" fill="#089981"/>
<rect x="1365" y="375" width="1" height="14" fill="#f23645"/>
<rect x="1364" y="378" width="3" height="11" fill="#f23645"/>
<rect x="1369" y="377" width="1" height="25" fill="#f23645"/>
<rect x="1368" y="389" width="3" height="9" fill="#f23645"/>
<rect x="1373" y="391" width="1" height="9" fill="#089981"/>
<rect x="1372" y="398" width="3" height="2" fill="#089981"/>
<rect x="1378" y="397" width="1" height="7" fill="#f23645"/>
<rect x="1377" y="398" width="3" height="2" fill="#f23645"/>
<rect x="1382" y="387" width="1" height="16" fill="#089981"/>
<rect x="1381" y="397" width="3" height="1" fill="#089981"/>
<rect x="1387" y="391" width="1" height="9" fill="#089981"/>
<rect x="1386" y="393" width="3" height="5" fill="#089981"/>
<rect x="1391" y="392" width="1" height="18" fill="#f23645"/>
<rect x="1390" y="393" width="3" height="16" fill="#f23645"/>
<rect x="1395" y="385" width="1" height="26" fill="#089981"/>
<rect x="1394" y="391" width="3" height="18" fill="#089981"/>
<rect x="1400" y="389" width="1" height="26" fill="#f23645"/>
<rect x="1399" y="390" width="3" height="21" fill="#f23645"/>
<rect x="1404" y="399" width="1" height="20" fill="#f23645"/>
<rect x="1403" y="410" width="3" height="5" fill="#f23645"/>
<rect x="1409" y="410" width="1" height="44" fill="#f23645"/>
<rect x="1408" y="414" width="3" height="28" fill="#f23645"/>
<rect x="1413" y="439" width="1" height="56" fill="#f23645"/>
<rect x="1412" y="441" width="3" height="43" fill="#f23645"/>
<rect x="1417" y="484" width="1" height="42" fill="#f23645"/>
<rect x="1416" y="484" width="3" height="29" fill="#f23645"/>
<rect x="1422" y="496" width="1" height="34" fill="#f23645"/>
<rect x="1421" y="513" width="3" height="3" fill="#f23645"/>
<rect x="1426" y="509" width="1" height="51" fill="#f23645"/>
<rect x="1425" y="515" width="3" height="32" fill="#f23645"/>
<rect x="1430" y="519" width="1" height="30" fill="#089981"/>
<rect x="1429" y="539" width="3" height="9" fill="#089981"/>
<rect x="1435" y="533" width="1" height="31" fill="#f23645"/>
<rect x="1434" y="539" width="3" height="24" fill="#f23645"/>
<rect x="1439" y="560" width="1" height="22" fill="#f23645"/>
<rect x="1438" y="562" width="3" height="9" fill="#f23645"/>
<rect x="1444" y="540" width="1" height="34" fill="#089981"/>
<rect x="1443" y="547" width="3" height="24" fill="#089981"/>
<rect x="1448" y="546" width="1" height="30" fill="#f23645"/>
<rect x="1447" y="547" width="3" height="24" fill="#f23645"/>
<rect x="1452" y="528" width="1" height="38" fill="#089981"/>
<rect x="1451" y="534" width="3" height="32" fill="#089981"/>
<rect x="1457" y="471" width="1" height="63" fill="#089981"/>
<rect x="1456" y="474" width="3" height="60" fill="#089981"/>
<rect x="1461" y="454" width="1" height="31" fill="#089981"/>
<rect x="1460" y="460" width="3" height="15" fill="#089981"/>
<rect x="1465" y="443" width="1" height="28" fill="#089981"/>
<rect x="1464" y="457" width="3" height="3" fill="#089981"/>
<rect x="1470" y="454" width="1" height="14" fill="#f23645"/>
<rect x="1469" y="458" width="3" height="1" fill="#f23645"/>
<rect x="1474" y="453" width="1" height="12" fill="#f23645"/>
<rect x="1473" y="458" width="3" height="2" fill="#f23645"/>
</g>
<line x1="8" y1="459.5" x2="1816" y2="459.5" stroke="#f23645" stroke-width="1" stroke-dasharray="1 2" shape-rendering="crispEdges"/>
<text x="1825.8" y="53.1" font-size="12.3" fill="#131722" textLength="43" lengthAdjust="spacingAndGlyphs">0.66600</text>
<text x="1825.8" y="102.1" font-size="12.3" fill="#131722" textLength="43" lengthAdjust="spacingAndGlyphs">0.66400</text>
<text x="1825.8" y="150.1" font-size="12.3" fill="#131722" textLength="43" lengthAdjust="spacingAndGlyphs">0.66200</text>
<text x="1825.8" y="199.1" font-size="12.3" fill="#131722" textLength="43" lengthAdjust="spacingAndGlyphs">0.66000</text>
<text x="1825.8" y="247.1" font-size="12.3" fill="#131722" textLength="43" lengthAdjust="spacingAndGlyphs">0.65800</text>
<text x="1825.8" y="296.1" font-size="12.3" fill="#131722" textLength="43" lengthAdjust="spacingAndGlyphs">0.65600</text>
<text x="1825.8" y="344.1" font-size="12.3" fill="#131722" textLength="43" lengthAdjust="spacingAndGlyphs">0.65400</text>
<text x="1825.8" y="393.1" font-size="12.3" fill="#131722" textLength="43" lengthAdjust="spacingAndGlyphs">0.65200</text>
<text x="1825.8" y="441.1" font-size="12.3" fill="#131722" textLength="43" lengthAdjust="spacingAndGlyphs">0.65000</text>
<text x="1825.8" y="490.1" font-size="12.3" fill="#131722" textLength="43" lengthAdjust="spacingAndGlyphs">0.64800</text>
<text x="1825.8" y="538.1" font-size="12.3" fill="#131722" textLength="43" lengthAdjust="spacingAndGlyphs">0.64600</text>
<text x="1825.8" y="587.1" font-size="12.3" fill="#131722" textLength="43" lengthAdjust="spacingAndGlyphs">0.64400</text>
<text x="1825.8" y="635.1" font-size="12.3" fill="#131722" textLength="43" lengthAdjust="spacingAndGlyphs">0.64200</text>
<rect x="1818" y="374" width="56" height="17" rx="2" ry="2" fill="#ea0a24"/>
<text x="1825.8" y="387" font-size="12" font-weight="bold" fill="#ffffff" textLength="42.3" lengthAdjust="spacingAndGlyphs">0.65226</text>
<rect x="1818" y="451" width="56" height="31" rx="2" ry="2" fill="#f23645"/>
<text x="1825.8" y="464.3" font-size="12" font-weight="bold" fill="#ffffff" textLength="42.3" lengthAdjust="spacingAndGlyphs">0.64908</text>
<text x="1825.8" y="478" font-size="12" fill="#ffffff" fill-opacity="0.85" textLength="29.5" lengthAdjust="spacingAndGlyphs">32:38</text>
<rect x="1818" y="494" width="56" height="17" rx="2" ry="2" fill="#2962ff"/>
<text x="1825.8" y="507" font-size="12" font-weight="bold" fill="#ffffff" textLength="42.3" lengthAdjust="spacingAndGlyphs">0.64732</text>
<rect x="1818" y="561" width="56" height="17" rx="2" ry="2" fill="#4caf50"/>
<text x="1825.8" y="574" font-size="12" font-weight="bold" fill="#ffffff" textLength="42.3" lengthAdjust="spacingAndGlyphs">0.64455</text>
<defs><pattern id="dz" x="0" y="664" width="4" height="3" patternUnits="userSpaceOnUse"><rect width="4" height="3" fill="#cbcbcb"/><rect x="1" y="1" width="2" height="1" fill="#b9b9b9"/><rect x="3" y="0" width="1" height="1" fill="#d6d6d6"/><rect x="3" y="2" width="1" height="1" fill="#d2d2d2"/></pattern></defs>
<rect x="0" y="664" width="1883" height="3" fill="url(#dz)"/>
<path d="M0 660 Q0 664 5 664 L0 664 Z" fill="#d8d8d8"/>
<path d="M0 0 L3 0 Q0 0 0 3 Z" fill="#dcdcdc"/>
</svg></body></html>
